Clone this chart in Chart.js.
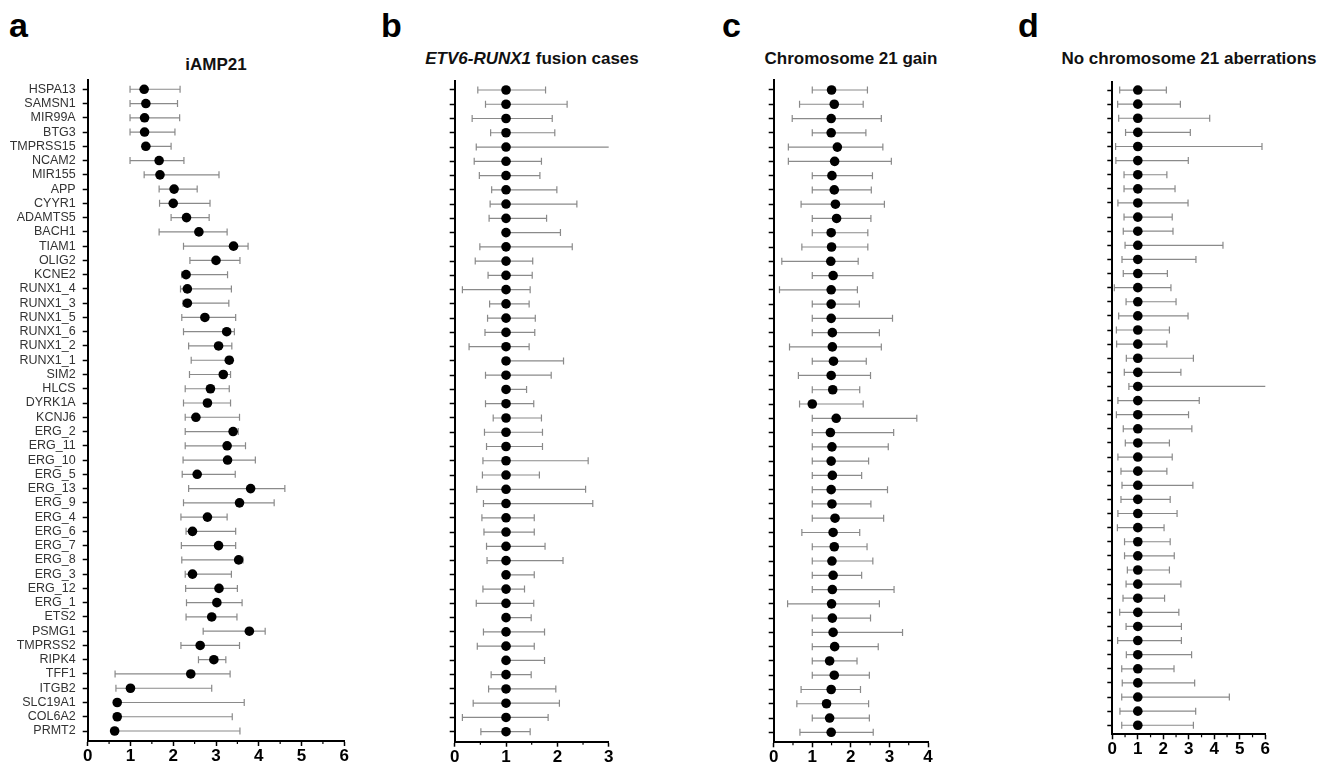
<!DOCTYPE html>
<html>
<head>
<meta charset="utf-8">
<script src="https://cdn.jsdelivr.net/npm/chart.js@4.4.0/dist/chart.umd.min.js"></script>
<style>
  body { margin: 0; background: #fff; font-family: "Liberation Sans", Arial, sans-serif; }
  #page { position: relative; width: 1338px; height: 765px; overflow: hidden; }
  .panel { position: absolute; top: 0; height: 765px; }
  .letter { position: absolute; top: 8px; font-weight: bold; font-size: 34px; line-height: 34px; color: #000; }
  .title { position: absolute; font-weight: bold; font-size: 17px; line-height: 17px; white-space: nowrap; transform: translateX(-50%); color: #111; }
</style>
</head>
<body>
<div id="page">
  <div class="letter" style="left:9px">a</div>
  <div class="letter" style="left:381px">b</div>
  <div class="letter" style="left:722px">c</div>
  <div class="letter" style="left:1018px">d</div>

  <div class="title" style="left:216px; top:56px">iAMP21</div>
  <div class="title" style="left:532px; top:50px"><i>ETV6-RUNX1</i> fusion cases</div>
  <div class="title" style="left:851px; top:50px">Chromosome 21 gain</div>
  <div class="title" style="left:1189px; top:50px">No chromosome 21 aberrations</div>

  <div class="panel" style="left:0px; width:360px"><canvas id="chartA"></canvas></div>
  <div class="panel" style="left:380px; width:250px"><canvas id="chartB"></canvas></div>
  <div class="panel" style="left:700px; width:250px"><canvas id="chartC"></canvas></div>
  <div class="panel" style="left:1030px; width:308px"><canvas id="chartD"></canvas></div>
</div>

<script>
// --- Data (top to bottom) ---
const genes = ["HSPA13", "SAMSN1", "MIR99A", "BTG3", "TMPRSS15", "NCAM2", "MIR155", "APP",
  "CYYR1", "ADAMTS5", "BACH1", "TIAM1", "OLIG2", "KCNE2", "RUNX1_4", "RUNX1_3", "RUNX1_5",
  "RUNX1_6", "RUNX1_2", "RUNX1_1", "SIM2", "HLCS", "DYRK1A", "KCNJ6", "ERG_2", "ERG_11",
  "ERG_10", "ERG_5", "ERG_13", "ERG_9", "ERG_4", "ERG_6", "ERG_7", "ERG_8", "ERG_3", "ERG_12",
  "ERG_1", "ETS2", "PSMG1", "TMPRSS2", "RIPK4", "TFF1", "ITGB2", "SLC19A1", "COL6A2", "PRMT2"];

// a: iAMP21
const iampMean = [1.32, 1.36, 1.33, 1.33, 1.36, 1.67, 1.69, 2.02, 2.0, 2.31, 2.60, 3.41, 3.0,
  2.30, 2.33, 2.33, 2.74, 3.25, 3.06, 3.31, 3.17, 2.87, 2.80, 2.53, 3.40, 3.26, 3.27, 2.56,
  3.81, 3.55, 2.80, 2.45, 3.06, 3.53, 2.45, 3.07, 3.02, 2.90, 3.78, 2.63, 2.95, 2.41, 1.0,
  0.69, 0.69, 0.63];
const iampLow = [0.99, 0.99, 0.99, 0.99, 1.28, 0.99, 1.32, 1.67, 1.68, 1.95, 1.67, 2.24, 2.39,
  2.20, 2.17, 2.23, 2.20, 2.24, 2.36, 2.42, 2.38, 2.28, 2.24, 2.28, 2.28, 2.28, 2.23, 2.21,
  2.36, 2.24, 2.18, 2.30, 2.19, 2.20, 2.28, 2.29, 2.31, 2.30, 2.70, 2.18, 2.59, 0.64, 0.66,
  0.65, 0.68, 0.62];
const iampHigh = [2.16, 2.10, 2.15, 2.04, 1.95, 2.25, 3.07, 2.56, 2.86, 2.84, 3.26, 3.75, 3.56,
  3.27, 3.36, 3.30, 3.46, 3.43, 3.37, 3.38, 3.34, 3.31, 3.34, 3.55, 3.52, 3.69, 3.92, 3.45,
  4.61, 4.36, 3.26, 3.46, 3.46, 3.63, 3.36, 3.50, 3.61, 3.49, 4.15, 3.55, 3.23, 3.33, 2.90,
  3.66, 3.38, 3.56];

// b: ETV6-RUNX1 fusion cases (reference group, all 1)
const etvMean = [1, 1, 1, 1, 1, 1, 1, 1, 1, 1, 1, 1, 1, 1, 1, 1, 1, 1, 1, 1, 1, 1, 1, 1, 1, 1,
  1, 1, 1, 1, 1, 1, 1, 1, 1, 1, 1, 1, 1, 1, 1, 1, 1, 1, 1, 1];
const etvLow = [0.45, 0.60, 0.34, 0.70, 0.42, 0.38, 0.48, 0.72, 0.69, 0.67, 1.0, 0.49, 0.40,
  0.65, 0.15, 0.68, 0.64, 0.59, 0.28, 1.0, 0.60, 1.0, 0.60, 0.75, 0.58, 0.62, 0.55, 0.54,
  0.43, 0.56, 0.53, 0.57, 0.62, 0.63, 1.0, 0.55, 0.42, 1.0, 0.56, 0.44, 1.0, 0.71, 0.66,
  0.36, 0.15, 0.51];
const etvHigh = [1.77, 2.19, 1.90, 1.95, 3.0, 1.69, 1.66, 1.99, 2.38, 1.79, 2.06, 2.29, 1.52,
  1.51, 1.47, 1.45, 1.57, 1.56, 1.45, 2.12, 1.88, 1.40, 1.54, 1.69, 1.71, 1.71, 2.60, 1.65,
  2.55, 2.69, 1.55, 1.55, 1.76, 2.11, 1.55, 1.36, 1.54, 1.49, 1.75, 1.55, 1.75, 1.49, 1.97,
  2.04, 1.82, 1.47];

// c: Chromosome 21 gain
const gainMean = [1.50, 1.57, 1.49, 1.49, 1.65, 1.58, 1.51, 1.57, 1.60, 1.63, 1.49, 1.50, 1.48,
  1.54, 1.49, 1.49, 1.49, 1.52, 1.52, 1.55, 1.49, 1.53, 1.0, 1.62, 1.47, 1.51, 1.49, 1.52,
  1.49, 1.51, 1.59, 1.54, 1.57, 1.51, 1.54, 1.52, 1.50, 1.52, 1.54, 1.58, 1.45, 1.57, 1.49,
  1.37, 1.45, 1.49];
const gainLow = [1.0, 0.67, 0.48, 1.0, 0.38, 0.38, 1.0, 1.0, 0.71, 1.0, 1.0, 0.73, 0.21, 1.0,
  0.15, 1.0, 1.0, 1.0, 0.41, 1.0, 0.64, 1.0, 0.67, 1.0, 1.0, 1.0, 1.0, 1.0, 1.0, 1.0, 1.0,
  0.73, 1.0, 1.0, 1.0, 1.0, 0.36, 1.0, 1.0, 1.0, 1.0, 1.0, 0.71, 0.60, 1.0, 0.68];
const gainHigh = [2.43, 2.32, 2.79, 2.39, 2.83, 3.05, 2.56, 2.53, 2.87, 2.52, 2.44, 2.44, 2.19,
  2.57, 2.17, 2.22, 3.08, 2.74, 2.79, 2.40, 2.51, 2.23, 2.32, 3.71, 3.11, 2.97, 2.46, 2.28,
  2.95, 2.52, 2.85, 2.23, 2.42, 2.57, 2.28, 3.12, 2.74, 2.51, 3.34, 2.71, 2.16, 2.48, 2.25,
  2.46, 2.48, 2.58];

// d: No chromosome 21 aberrations (reference group, all 1)
const noneMean = [1, 1, 1, 1, 1, 1, 1, 1, 1, 1, 1, 1, 1, 1, 1, 1, 1, 1, 1, 1, 1, 1, 1, 1, 1, 1,
  1, 1, 1, 1, 1, 1, 1, 1, 1, 1, 1, 1, 1, 1, 1, 1, 1, 1, 1, 1];
const noneLow = [0.29, 0.21, 0.25, 0.52, 0.13, 0.14, 0.46, 0.46, 0.22, 0.46, 0.43, 0.50, 0.38,
  0.43, 0.08, 0.54, 0.25, 0.16, 0.17, 0.55, 0.47, 0.65, 0.22, 0.16, 0.43, 0.51, 0.22, 0.34,
  0.38, 0.34, 0.22, 0.20, 0.48, 0.48, 0.59, 0.54, 0.42, 0.29, 0.54, 0.21, 0.55, 0.37, 0.39,
  0.37, 0.30, 0.37];
const noneHigh = [2.12, 2.67, 3.82, 3.06, 5.87, 2.98, 2.14, 2.46, 2.97, 2.35, 2.38, 4.34, 3.28,
  2.16, 2.30, 2.50, 2.97, 2.24, 2.14, 3.18, 2.69, 6.0, 3.41, 2.99, 3.12, 2.24, 2.35, 2.14,
  3.16, 2.27, 2.54, 2.03, 2.27, 2.43, 2.24, 2.69, 2.05, 2.61, 2.71, 2.71, 3.11, 2.42, 3.23,
  4.59, 3.27, 3.18];

// x axis upper limits per panel
const xMaxA = 6, xMaxB = 3, xMaxC = 4, xMaxD = 6;

Chart.defaults.font.family = "'Liberation Sans', Arial, sans-serif";
Chart.defaults.animation = false;

// horizontal CI whiskers, drawn under the points
function errorBarPlugin(low, high) {
  return {
    id: "errorBars",
    beforeDatasetsDraw(chart) {
      const { ctx, scales: { x, y } } = chart;
      ctx.save();
      ctx.strokeStyle = "#8a8a8a";
      ctx.lineWidth = 1.2;
      for (let i = 0; i < low.length; i++) {
        const py = y.getPixelForValue(i);
        const hiVal = Math.min(high[i], x.max);
        const x1 = x.getPixelForValue(low[i]);
        const x2 = x.getPixelForValue(hiVal);
        ctx.beginPath();
        ctx.moveTo(x1, py);
        ctx.lineTo(x2, py);
        ctx.moveTo(x1, py - 3.5);
        ctx.lineTo(x1, py + 3.5);
        if (high[i] < x.max) {
          ctx.moveTo(x2, py - 3.5);
          ctx.lineTo(x2, py + 3.5);
        }
        ctx.stroke();
      }
      ctx.restore();
    },
  };
}

// small half-step ticks on the x axis
const minorTicks = {
  id: "minorTicks",
  afterDraw(chart) {
    const { ctx, scales: { x } } = chart;
    ctx.save();
    ctx.strokeStyle = "#000";
    ctx.lineWidth = 1.2;
    for (let v = 0.5; v < x.max; v += 1) {
      const px = x.getPixelForValue(v);
      ctx.beginPath();
      ctx.moveTo(px, x.top);
      ctx.lineTo(px, x.top + 3);
      ctx.stroke();
    }
    ctx.restore();
  },
};

function makePanel(canvasId, opt) {
  const ctx = document.getElementById(canvasId).getContext("2d");
  return new Chart(ctx, {
    type: "scatter",
    data: {
      datasets: [
        {
          data: opt.mean.map((m, i) => ({ x: m, y: i })),
          backgroundColor: "#000",
          borderWidth: 0,
          pointRadius: 4.8,
          pointHoverRadius: 4.8,
        },
      ],
    },
    options: {
      responsive: true,
      maintainAspectRatio: false,
      layout: { padding: { top: opt.top, right: opt.right, left: 0, bottom: 0 } },
      plugins: { legend: { display: false }, tooltip: { enabled: false } },
      scales: {
        x: {
          type: "linear",
          min: 0,
          max: opt.xMax,
          afterFit: (s) => { s.height = opt.xHeight; },
          border: { display: true, color: "#000", width: 2 },
          grid: { drawOnChartArea: false, drawTicks: true, tickLength: 5, tickColor: "#000", tickWidth: 1.5 },
          ticks: {
            stepSize: 1,
            padding: 0,
            color: "#000",
            font: { size: 17, weight: "bold" },
            maxRotation: 0,
          },
        },
        y: {
          type: "linear",
          reverse: true,
          min: opt.yMin,
          max: opt.yMax,
          afterFit: (s) => { s.width = opt.yWidth; },
          afterBuildTicks: (s) => { s.ticks = genes.map((g, i) => ({ value: i })); },
          border: { display: true, color: "#000", width: 2 },
          grid: { drawOnChartArea: false, drawTicks: true, tickLength: 5, tickColor: "#000", tickWidth: 1.5 },
          ticks: {
            autoSkip: false,
            padding: 7,
            color: "#333",
            font: { size: 12.5 },
            callback: (v) => (opt.labels ? genes[v] : ""),
          },
        },
      },
    },
    plugins: [errorBarPlugin(opt.low, opt.high), minorTicks],
  });
}

makePanel("chartA", { mean: iampMean, low: iampLow, high: iampHigh, xMax: xMaxA, labels: true,
  yMin: -0.65, yMax: 45.7, yWidth: 87.7, top: 80, right: 15.7, xHeight: 24 });
makePanel("chartB", { mean: etvMean, low: etvLow, high: etvHigh, xMax: xMaxB, labels: false,
  yMin: -0.63, yMax: 45.7, yWidth: 74.7, top: 81, right: 21.3, xHeight: 23.3 });
makePanel("chartC", { mean: gainMean, low: gainLow, high: gainHigh, xMax: xMaxC, labels: false,
  yMin: -0.7, yMax: 45.7, yWidth: 73.7, top: 80, right: 22, xHeight: 22.7 });
makePanel("chartD", { mean: noneMean, low: noneLow, high: noneHigh, xMax: xMaxD, labels: false,
  yMin: -0.59, yMax: 45.64, yWidth: 82.3, top: 81.7, right: 72.7, xHeight: 30.7 });
</script>
</body>
</html>
